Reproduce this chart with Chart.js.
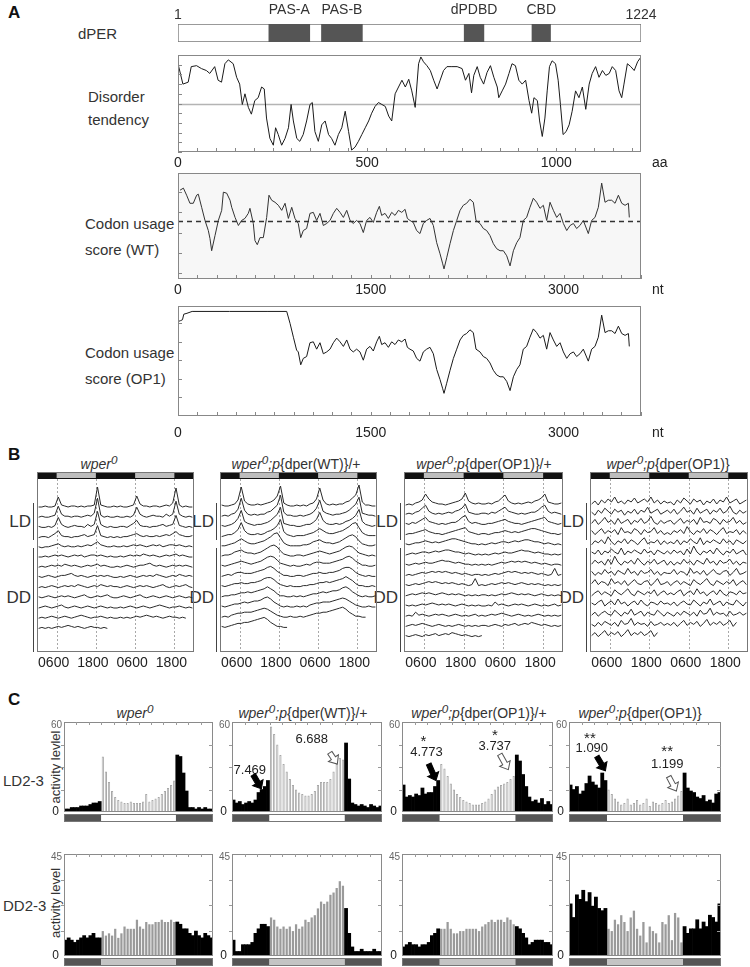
<!DOCTYPE html>
<html>
<head>
<meta charset="utf-8">
<title>dPER codon usage and activity</title>
<script src="https://cdn.jsdelivr.net/npm/chart.js@4.4.1/dist/chart.umd.min.js"></script>
<style>
  body { margin: 0; background: #fff; }
  #fig { position: relative; width: 750px; height: 967px; overflow: hidden;
         font-family: "Liberation Sans", Arial, sans-serif; color: #333; }
  #fig canvas { position: absolute; }
  .tx { position: absolute; white-space: nowrap; font-size: 15px; transform: translateY(-50%); }
  .pl { position: absolute; font-size: 17px; font-weight: bold; color: #111; transform: translateY(-50%); }
  .ttl { position: absolute; white-space: nowrap; font-size: 14px; transform: translate(-50%, -50%); }
  .lab { position: absolute; font-size: 17px; transform: translate(-100%, -50%); }
  .brk { position: absolute; border-left: 1.5px solid #444; }
  .rot { position: absolute; white-space: nowrap; font-size: 13px; transform: translate(-50%, -50%) rotate(-90deg); }
</style>
</head>
<body>
<div id="fig">
  <div class="pl" style="left:8px;top:13px">A</div>
  <div class="tx" style="left:78px;top:33px">dPER</div>
  <div class="tx" style="left:88px;top:96px">Disorder</div>
  <div class="tx" style="left:88px;top:119px">tendency</div>
  <div class="tx" style="left:85px;top:223px">Codon usage</div>
  <div class="tx" style="left:85px;top:249px">score (WT)</div>
  <div class="tx" style="left:85px;top:352px">Codon usage</div>
  <div class="tx" style="left:85px;top:378px">score (OP1)</div>

  <div class="pl" style="left:8px;top:455px">B</div>
  <div class="ttl" style="left:99px;top:462px"><i>wper<sup>0</sup></i></div>
  <div class="ttl" style="left:296px;top:462px"><i>wper<sup>0</sup>;p</i>{dper(WT)}/+</div>
  <div class="ttl" style="left:484px;top:462px"><i>wper<sup>0</sup>;p</i>{dper(OP1)}/+</div>
  <div class="ttl" style="left:668px;top:462px"><i>wper<sup>0</sup>;p</i>{dper(OP1)}</div>

  <div class="brk" style="left:33px;top:503px;height:37px"></div>
  <div class="brk" style="left:33px;top:548px;height:104px"></div>
  <div class="lab" style="left:31px;top:522px">LD</div>
  <div class="lab" style="left:31px;top:598px">DD</div>
  <div class="brk" style="left:216px;top:503px;height:37px"></div>
  <div class="brk" style="left:216px;top:548px;height:104px"></div>
  <div class="lab" style="left:214px;top:522px">LD</div>
  <div class="lab" style="left:214px;top:598px">DD</div>
  <div class="brk" style="left:400px;top:503px;height:37px"></div>
  <div class="brk" style="left:400px;top:548px;height:104px"></div>
  <div class="lab" style="left:398px;top:522px">LD</div>
  <div class="lab" style="left:398px;top:598px">DD</div>
  <div class="brk" style="left:586px;top:503px;height:37px"></div>
  <div class="brk" style="left:586px;top:548px;height:104px"></div>
  <div class="lab" style="left:584px;top:522px">LD</div>
  <div class="lab" style="left:584px;top:598px">DD</div>

  <div class="pl" style="left:8px;top:700px">C</div>
  <div class="ttl" style="left:135px;top:711px"><i>wper<sup>0</sup></i></div>
  <div class="ttl" style="left:303px;top:711px"><i>wper<sup>0</sup>;p</i>{dper(WT)}/+</div>
  <div class="ttl" style="left:479px;top:711px"><i>wper<sup>0</sup>;p</i>{dper(OP1)}/+</div>
  <div class="ttl" style="left:640px;top:711px"><i>wper<sup>0</sup>;p</i>{dper(OP1)}</div>
  <div class="tx" style="left:3px;top:780px;font-size:15px">LD2-3</div>
  <div class="tx" style="left:3px;top:905px;font-size:15px">DD2-3</div>
  <div class="rot" style="left:55px;top:767px">activity levlel</div>
  <div class="rot" style="left:55px;top:903px">activity level</div>
</div>

<script>
// ---------- panel A: protein, disorder, codon usage ----------
const proteinLength = 1224;
const domainNames = ['PAS-A', 'PAS-B', 'dPDBD', 'CBD'];
const domainStart = [241, 380, 757, 936];
const domainEnd = [349, 488, 809, 985];

const disorderPos = [0,13,27,35,49,62,75,84,97,106,115,124,133,146,155,163,170,177,186,194,
  203,212,221,228,234,243,252,258,265,274,283,292,299,305,314,322,331,340,349,355,
  362,371,380,389,398,406,415,424,433,442,451,459,468,477,486,495,504,512,521,530,
  539,548,557,565,574,583,592,601,610,618,627,636,642,649,658,667,676,685,693,702,
  711,724,738,751,760,769,776,782,791,799,808,817,826,835,844,848,857,866,875,883,
  892,901,910,919,928,935,941,950,956,963,970,976,982,989,998,1005,1011,1018,1026,1034,
  1042,1051,1060,1069,1078,1087,1095,1104,1113,1122,1131,1140,1148,1157,1166,1173,1179,1188,1197,1206,
  1215,1224];
const disorder = [91,70,72,88,89,86,84,81,88,74,72,91,95,91,77,70,49,60,46,39,
  53,56,67,65,35,14,7,25,18,7,14,25,49,32,14,11,18,32,49,51,
  21,11,28,32,18,14,7,18,25,42,21,2,5,11,18,25,32,40,47,51,
  49,47,37,32,60,67,74,67,75,63,46,91,98,93,89,84,74,65,74,84,
  88,88,88,86,74,81,61,79,88,77,70,82,89,77,67,56,63,70,81,91,
  89,74,70,74,53,40,56,53,32,16,35,63,88,94,91,74,49,18,21,28,
  42,63,56,67,44,70,81,88,77,84,79,81,88,84,63,56,70,91,88,84,
  93,98];
const disorderCut = 49;

const wtPos = [16,42,67,93,119,145,158,184,210,236,249,262,288,314,340,353,379,405,418,444,
  470,495,521,547,560,586,599,617,638,664,690,708,729,755,781,807,833,859,885,910,
  936,955,975,1001,1027,1053,1079,1105,1131,1157,1183,1209,1235,1261,1287,1313,1339,1364,1390,1416,
  1442,1468,1494,1520,1546,1567,1585,1611,1637,1663,1689,1715,1741,1767,1785,1805,1831,1857,1883,1909,
  1935,1961,1987,2013,2039,2060,2070,2091,2117,2143,2169,2195,2220,2246,2272,2298,2319,2350,2376,2402,
  2428,2454,2480,2506,2532,2558,2584,2610,2636,2661,2687,2713,2739,2765,2791,2817,2843,2869,2895,2921,
  2947,2973,2999,3025,3051,3077,3102,3128,3154,3193,3219,3245,3271,3297,3323,3349,3375,3401,3427,3453,
  3479,3505,3512];
const wtScore = [82,84,77,69,69,77,78,65,52,42,34,22,37,52,62,80,79,72,65,55,
  47,52,54,59,64,49,32,28,35,35,55,77,72,70,67,62,69,54,65,54,
  49,35,42,44,59,60,52,59,47,49,52,59,64,60,55,62,52,49,52,49,
  40,52,55,50,60,66,57,59,54,60,57,62,60,63,54,52,50,42,39,49,
  52,54,47,30,19,9,4,15,29,42,52,62,67,69,73,70,52,49,44,42,
  37,29,24,22,22,17,7,22,30,35,52,55,65,74,70,64,67,52,70,62,
  55,59,49,42,47,49,44,47,52,39,52,55,65,89,70,72,72,69,77,69,
  67,69,55];
const wtMean = 51;

// OP1 re-coded 5' region; downstream codons are the native ones
const op1HeadPos = [0,20,35,45,70,110,400,700,846,872,898,923];
const op1HeadScore = [82,83,84,90,91,93,93,93,93,80,65,51];

const aaTicks = [0, 500, 1000];
const ntTicks = [0, 1500, 3000];
const ntMax = 3603;

// ---------- panel B: actograms (hourly counts, one array per day) ----------
const actTickHours = [6, 18, 30, 42];
const actTickLabels = ['0600', '1800', '0600', '1800'];
const lightsOn = 6, lightsOff = 18;

const actWper0 = [
  [2,2,3,2,2,3,12,4,3,2,3,3,2,3,2,3,3,4,22,4,3,2,2,3],
  [2,3,2,2,3,4,13,5,3,3,2,3,3,2,3,4,3,6,21,4,2,3,2,2],
  [3,2,2,3,2,4,12,5,3,2,3,4,3,3,2,5,3,5,18,5,3,2,3,2],
  [2,3,3,2,4,6,9,4,3,3,2,3,3,4,5,3,4,5,14,4,3,2,3,2],
  [3,2,3,3,4,5,6,4,3,4,3,3,4,3,4,5,4,6,8,5,4,3,3,4],
  [3,3,4,3,4,5,4,5,4,3,4,5,4,5,3,4,5,5,4,5,4,3,4,3],
  [3,4,3,4,5,4,5,4,6,5,4,5,4,3,4,5,4,5,6,4,5,4,3,3],
  [4,3,4,5,4,3,4,5,5,6,7,5,4,5,4,3,4,5,4,5,4,5,4,3],
  [3,4,3,4,5,4,3,4,5,4,5,4,6,5,4,3,4,5,4,6,5,4,5,4],
  [4,3,4,5,4,3,4,5,4,5,4,3,4,5,6,4,3,4,5,4,5,6,4,3],
  [3,4,5,4,3,4,5,6,4,3,4,5,4,3,4,5,4,3,4,5,4,3,4,3],
  [3,4,3,4,5,4,3,4,5,4,3,4,5,6,5,4,3,4,4,5,4,3,4,3],
  [3,4,3,4,3,4,5,4,5,6,5,4,5,4,3,4,5,4,4,3,4,3]
];
const actWT = [
  [4,3,3,4,5,9,22,8,5,4,4,5,4,5,6,7,9,13,23,6,4,3,3,4],
  [3,4,3,5,6,10,21,9,5,4,5,4,5,5,7,8,11,14,24,7,4,4,3,3],
  [4,3,4,5,7,11,19,8,6,5,4,5,5,6,7,9,12,15,22,6,5,4,4,3],
  [3,4,5,5,7,10,17,9,6,5,5,6,5,6,8,9,11,14,20,8,5,4,3,4],
  [4,4,5,6,7,9,11,9,7,6,6,7,8,9,11,13,16,17,12,7,5,4,4,4],
  [4,5,5,6,8,9,10,8,7,7,6,7,8,10,12,14,15,13,9,6,5,4,4,5],
  [5,4,5,6,7,8,9,8,7,6,7,8,9,11,13,14,13,10,7,6,5,4,5,4],
  [4,5,6,5,7,8,8,7,7,7,8,9,10,11,13,14,12,9,7,5,5,4,4,5],
  [5,4,5,6,7,7,8,7,7,8,8,9,10,12,13,13,11,8,6,5,4,5,4,4],
  [4,5,5,6,6,7,8,8,9,8,9,10,11,12,14,12,10,7,5,5,4,4,5,4],
  [5,4,5,6,7,7,8,9,8,9,10,10,11,13,14,12,9,7,5,4,5,4,4,5],
  [4,5,4,6,7,8,8,9,9,9,10,11,12,13,12,10,8,6,5,4,4,5,4,4],
  [5,4,5,6,7,8,8,9,9,10,11,12,13,14,12,9,7,5,5,4,4]
];
const actOP1het = [
  [4,5,4,6,7,9,15,10,7,6,5,5,4,5,6,7,8,10,16,8,6,5,6,5],
  [5,6,5,7,8,11,14,8,6,5,6,5,6,7,6,8,9,11,15,7,6,5,5,6],
  [6,5,7,6,8,10,12,8,7,6,5,6,5,6,7,7,9,12,14,8,6,7,6,5],
  [5,6,6,7,8,9,10,8,7,6,6,5,6,7,8,9,10,11,12,8,7,6,5,6],
  [6,5,6,7,7,8,9,8,7,8,7,8,9,10,11,11,10,9,8,7,6,6,5,6],
  [5,6,7,6,7,8,8,7,8,9,8,9,10,10,9,8,8,7,6,7,6,5,6,5],
  [6,5,6,7,6,7,8,7,7,8,9,10,9,9,8,7,8,7,6,6,5,6,5,6],
  [5,6,5,6,7,8,7,8,9,8,9,8,9,8,7,8,7,6,7,6,5,6,6,5],
  [6,5,6,7,6,7,8,9,8,9,8,7,8,7,8,7,6,7,6,5,6,12,5,6],
  [5,6,7,6,7,8,7,8,7,6,7,8,7,6,7,6,7,6,5,6,5,6,5,6],
  [6,5,6,5,6,7,6,7,8,7,6,7,6,7,6,5,6,7,6,5,6,5,6,5],
  [5,6,5,9,6,7,6,5,6,7,6,7,6,5,6,7,6,5,6,5,6,7,5,6],
  [5,6,7,6,7,8,7,6,5,6,7,6,5,6,5,6,7,6,5,6,5,6,5,6],
  [6,5,6,7,6,5,7,6,7,8,6,7,8,7,9,8,7,6,7,6,5,6,5,6]
];
const actOP1 = [
  [5,8,4,9,6,10,7,12,6,8,5,9,7,11,6,8,10,7,12,6,9,5,8,6],
  [7,4,9,6,11,8,5,10,7,9,4,8,6,10,5,9,7,12,6,8,10,5,7,9],
  [6,10,5,8,12,7,9,5,11,6,8,10,5,9,7,11,6,8,13,7,5,9,6,8],
  [9,5,8,11,6,9,7,10,5,12,7,8,6,11,9,5,10,7,8,12,6,9,5,7],
  [5,9,7,10,6,13,8,5,9,7,11,6,10,8,5,9,12,6,8,7,10,5,9,6],
  [8,6,10,5,9,7,11,8,6,12,5,9,7,10,8,6,11,7,9,5,10,8,6,9],
  [6,10,7,9,5,11,6,14,8,5,9,7,10,6,12,8,5,9,7,11,6,8,10,5],
  [9,5,8,6,11,7,9,5,10,8,6,12,7,9,5,10,7,8,11,6,9,5,8,7],
  [7,11,6,9,8,5,12,7,9,6,10,5,8,11,7,6,9,10,5,8,12,6,7,9],
  [5,8,10,6,9,7,5,11,8,6,9,12,7,5,10,8,6,9,7,11,5,8,10,6],
  [8,6,9,11,5,8,10,6,12,7,9,5,8,10,6,11,7,5,9,8,6,10,7,8],
  [6,9,5,8,10,7,6,11,8,5,9,7,12,6,8,10,5,9,7,6,11,8,5,9],
  [7,5,9,6,10,8,6,9,5,11,7,8,13,6,9,7,8,5,10,6,7,9,6,8],
  [6,9,5,8,11,6,9,7,10,5,8,12,6,9,7,10,6,8,11,5,9]
];

// ---------- panel C: 30-min activity bins, days 2-3 ----------
const binLabels = Array.from({ length: 48 }, (_, i) => String(i));
const lightOnBin = 12, lightOffBin = 36;

const ldWper0 = [2,2,3,3,3,4,4,4,5,6,6,7, 37,27,20,14,10,8,7,6,6,7,6,6, 6,7,12,7,8,9,10,12,14,16,18,21, 38,37,26,14,3,3,2,3,2,3,2,2];
const ldWT = [8,6,7,5,6,7,6,8,13,15,17,21, 57,52,45,38,32,27,22,18,15,13,12,11, 11,12,14,18,20,20,20,22,27,32,36,35, 46,22,6,5,4,5,4,3,5,4,3,4];
const ldOP1het = [18,10,11,10,12,11,16,12,13,13,17,21, 32,29,24,19,15,12,10,8,7,6,5,5, 5,6,7,9,12,15,17,18,19,20,22,24, 38,34,25,17,10,7,8,6,9,5,7,5];
const ldOP1 = [18,15,17,12,14,19,24,20,18,16,26,21, 15,12,9,7,5,6,9,5,6,8,5,6, 9,4,7,6,5,6,8,6,7,9,11,14, 26,16,14,13,10,9,11,7,8,6,12,13];
const ddWper0 = [7,8,7,6,7,8,9,8,9,10,8,8, 11,9,10,9,12,8,10,13,12,12,12,16, 13,12,15,14,14,15,15,16,15,15,16,15, 15,14,12,12,10,9,11,9,8,10,9,8];
const ddWT = [7,2,2,5,5,5,6,10,12,14,14,13, 17,16,13,12,13,12,13,11,14,12,13,16, 15,17,18,21,24,23,24,27,28,30,33,31, 21,10,4,2,2,3,2,2,2,3,2,2];
const ddOP1het = [4,5,6,5,5,4,5,5,6,9,10,12, 12,12,15,12,10,10,11,11,12,12,12,12, 11,13,14,15,16,15,16,16,15,17,16,14, 13,12,10,8,5,6,7,7,7,6,6,5];
const ddOP1 = [23,17,27,25,29,24,28,22,26,21,20,21, 12,11,16,14,18,15,11,17,20,12,9,15, 6,13,11,10,6,15,14,18,7,19,17,6, 13,10,12,12,16,12,15,13,18,17,15,23];

// evening / morning anticipation indices printed on the LD plots
const notesWT = {
  texts: [{ bin: 5.2, val: 28, text: '7.469' }, { bin: 25, val: 48.6, text: '6.688' }],
  arrows: [{ from: [6.3, 24.8], to: [8.9, 15.5], solid: true }, { from: [30.8, 39.5], to: [33.2, 32], solid: false }]
};
const notesOP1het = {
  texts: [{ bin: 6.3, val: 48.6, text: '*', star: true }, { bin: 7.3, val: 39.5, text: '4.773' },
          { bin: 29, val: 53, text: '*', star: true }, { bin: 29, val: 44, text: '3.737' }],
  arrows: [{ from: [8.0, 32], to: [10.3, 21], solid: true }, { from: [30.6, 38.4], to: [33.3, 28.2], solid: false }]
};
const notesOP1 = {
  texts: [{ bin: 6.1, val: 51, text: '**', star: true }, { bin: 6.7, val: 42.3, text: '1.090' },
          { bin: 30.5, val: 41.8, text: '**', star: true }, { bin: 30.5, val: 31.6, text: '1.199' }],
  arrows: [{ from: [8.3, 37], to: [11, 27.5], solid: true }, { from: [31, 23.6], to: [33.4, 14], solid: false }]
};

// ---------- helpers ----------
const FONT = '"Liberation Sans", Arial, sans-serif';

function place(area, m) {
  const cv = document.createElement('canvas');
  cv.width = area[2] - area[0] + m[0] + m[2];
  cv.height = area[3] - area[1] + m[1] + m[3];
  cv.style.left = (area[0] - m[0]) + 'px';
  cv.style.top = (area[1] - m[1]) + 'px';
  document.getElementById('fig').appendChild(cv);
  return { cv, padding: { left: m[0], top: m[1], right: m[2], bottom: m[3] } };
}

function baseOptions(padding, x, y) {
  return {
    responsive: false, animation: false, events: [],
    layout: { padding },
    plugins: { legend: { display: false }, tooltip: { enabled: false } },
    scales: { x: Object.assign({ display: false }, x), y: Object.assign({ display: false }, y) }
  };
}

function strokeBox(ctx, a, color) {
  ctx.save();
  ctx.strokeStyle = color;
  ctx.lineWidth = 1;
  ctx.strokeRect(Math.round(a.left) + 0.5, Math.round(a.top) + 0.5,
                 Math.round(a.right - a.left) - 1, Math.round(a.bottom - a.top) - 1);
  ctx.restore();
}

function frame(color, fill) {
  return {
    id: 'frame',
    beforeDatasetsDraw(c) {
      if (!fill) return;
      const a = c.chartArea;
      c.ctx.save();
      c.ctx.fillStyle = fill;
      c.ctx.fillRect(a.left, a.top, a.right - a.left, a.bottom - a.top);
      c.ctx.restore();
    },
    afterDatasetsDraw(c) { strokeBox(c.ctx, c.chartArea, color); }
  };
}

// inward ticks on bottom/left and numbers under the sequence axes
function seqAxis(step, labels, unit, yStep, labelGap) {
  return {
    id: 'seqAxis',
    afterDraw(c) {
      const { ctx, chartArea: a, scales: { x, y } } = c;
      const ly = a.bottom + (labelGap || 11);
      ctx.save();
      ctx.strokeStyle = '#888';
      ctx.lineWidth = 1;
      ctx.beginPath();
      for (let v = 0; v <= x.max; v += step) {
        const px = Math.round(x.getPixelForValue(v)) + 0.5;
        ctx.moveTo(px, a.bottom); ctx.lineTo(px, a.bottom - 4);
      }
      for (let v = Math.ceil(y.min / yStep) * yStep; v <= y.max; v += yStep) {
        const py = Math.round(y.getPixelForValue(v)) + 0.5;
        ctx.moveTo(a.left, py); ctx.lineTo(a.left + 4, py);
      }
      ctx.stroke();
      ctx.fillStyle = '#222';
      ctx.font = '14px ' + FONT;
      ctx.textBaseline = 'middle';
      ctx.textAlign = 'center';
      labels.forEach(v => ctx.fillText(String(v), x.getPixelForValue(v), ly));
      ctx.textAlign = 'left';
      ctx.fillText(unit, a.right + 11, ly);
      ctx.restore();
    }
  };
}

function trace(pos, vals, color) {
  return { data: pos.map((p, i) => ({ x: p, y: vals[i] })), borderColor: color || '#1a1a1a',
           borderWidth: 1, pointRadius: 0, tension: 0 };
}

// ---------- panel A ----------
const dom = place([178, 24, 641, 42], [40, 24, 40, 4]);
const domOpts = baseOptions(dom.padding, { type: 'linear', min: 1, max: proteinLength }, {});
domOpts.indexAxis = 'y';
new Chart(dom.cv, {
  type: 'bar',
  data: {
    labels: ['dPER'],
    datasets: domainNames.map((n, i) => ({
      label: n, data: [[domainStart[i], domainEnd[i]]], backgroundColor: '#555',
      grouped: false, barPercentage: 1, categoryPercentage: 1, order: 1
    })).concat([{
      label: 'dPER', data: [[1, proteinLength]], backgroundColor: '#fff', borderColor: '#777',
      borderWidth: 1, borderSkipped: false, grouped: false, barPercentage: 1, categoryPercentage: 1, order: 2
    }])
  },
  options: domOpts,
  plugins: [{
    id: 'domainLabels',
    afterDraw(c) {
      const { ctx, scales: { x } } = c;
      ctx.save();
      ctx.fillStyle = '#333';
      ctx.font = '14px ' + FONT;
      ctx.textAlign = 'center';
      ctx.textBaseline = 'middle';
      domainNames.forEach((n, i) => ctx.fillText(n, x.getPixelForValue((domainStart[i] + domainEnd[i]) / 2), 10));
      ctx.fillText('1', x.getPixelForValue(1), 15);
      ctx.fillText(String(proteinLength), x.getPixelForValue(proteinLength), 15);
      ctx.restore();
    }
  }]
});

const dis = place([178, 55, 641, 152], [10, 4, 40, 18]);
new Chart(dis.cv, {
  type: 'line',
  data: { datasets: [
    trace(disorderPos, disorder),
    { data: [{ x: 0, y: disorderCut }, { x: proteinLength, y: disorderCut }], borderColor: '#b4b4b4', borderWidth: 1.5, pointRadius: 0 }
  ] },
  options: baseOptions(dis.padding, { type: 'linear', min: 0, max: proteinLength }, { min: 0, max: 100 }),
  plugins: [frame('#888'), seqAxis(50, aaTicks, 'aa', 10)]
});

const wt = place([178, 173, 641, 279], [10, 4, 40, 18]);
new Chart(wt.cv, {
  type: 'line',
  data: { datasets: [
    trace(wtPos, wtScore, '#333'),
    { data: [{ x: 0, y: wtMean }, { x: ntMax, y: wtMean }], borderColor: '#333', borderWidth: 1.5, borderDash: [5, 4], pointRadius: 0 }
  ] },
  options: baseOptions(wt.padding, { type: 'linear', min: 0, max: ntMax }, { min: -6, max: 99 }),
  plugins: [frame('#888', '#f7f7f7'), seqAxis(150, ntTicks, 'nt', 20)]
});

const op1Pos = op1HeadPos.concat(wtPos.filter(p => p > op1HeadPos[op1HeadPos.length - 1]));
const op1Score = op1HeadScore.concat(wtScore.filter((s, i) => wtPos[i] > op1HeadPos[op1HeadPos.length - 1]));
const op = place([178, 306, 641, 416], [10, 4, 40, 26]);
new Chart(op.cv, {
  type: 'line',
  data: { datasets: [trace(op1Pos, op1Score)] },
  options: baseOptions(op.padding, { type: 'linear', min: 0, max: ntMax }, { min: -20.6, max: 98.9 }),
  plugins: [frame('#888'), seqAxis(150, ntTicks, 'nt', 20, 17)]
});

// ---------- panel B ----------
const rowZero = 143, rowStep = 10.2;

function actoDeco() {
  return {
    id: 'acto',
    beforeDatasetsDraw(c) {
      const { ctx, chartArea: a, scales: { x } } = c;
      ctx.save();
      ctx.strokeStyle = '#a8a8a8';
      ctx.setLineDash([2, 2]);
      ctx.lineWidth = 1;
      actTickHours.forEach(h => {
        const px = Math.round(x.getPixelForValue(h)) + 0.5;
        ctx.beginPath(); ctx.moveTo(px, a.top + 7); ctx.lineTo(px, a.bottom); ctx.stroke();
      });
      ctx.restore();
    },
    afterDatasetsDraw(c) {
      const { ctx, chartArea: a, scales: { x } } = c;
      ctx.save();
      ctx.fillStyle = '#111';
      ctx.fillRect(a.left, a.top, a.right - a.left, 7);
      ctx.fillStyle = '#bdbdbd';
      [0, 24].forEach(d => {
        const x1 = x.getPixelForValue(d + lightsOn), x2 = x.getPixelForValue(d + lightsOff);
        ctx.fillRect(x1, a.top + 1, x2 - x1, 5);
      });
      ctx.fillStyle = '#222';
      ctx.font = '14px ' + FONT;
      ctx.textAlign = 'center';
      ctx.textBaseline = 'middle';
      actTickHours.forEach((h, i) => ctx.fillText(actTickLabels[i], x.getPixelForValue(h) - 3, a.bottom + 11));
      ctx.restore();
      strokeBox(ctx, a, '#777');
    }
  };
}

function actogram(area, days) {
  const p = place(area, [4, 2, 2, 20]);
  const datasets = days.map((day, r) => {
    const base = rowZero - r * rowStep;
    const pts = day.map((v, h) => ({ x: h + 0.5, y: base + v }));
    if (days[r + 1]) days[r + 1].forEach((v, h) => pts.push({ x: 24 + h + 0.5, y: base + v }));
    return { data: pts, borderColor: '#2a2a2a', borderWidth: 1, pointRadius: 0, tension: 0 };
  });
  new Chart(p.cv, {
    type: 'line',
    data: { datasets },
    options: baseOptions(p.padding, { type: 'linear', min: 0, max: 48 }, { min: 0, max: 180 }),
    plugins: [actoDeco()]
  });
}

actogram([37, 472, 194, 652], actWper0);
actogram([220, 472, 377, 652], actWT);
actogram([404, 472, 563, 652], actOP1het);
actogram([590, 472, 748, 652], actOP1);

// ---------- panel C ----------
function blockArrow(ctx, x1, y1, x2, y2, solid) {
  const ang = Math.atan2(y2 - y1, x2 - x1), len = Math.hypot(x2 - x1, y2 - y1);
  ctx.save();
  ctx.translate(x1, y1);
  ctx.rotate(ang);
  ctx.beginPath();
  ctx.moveTo(0, -2.5); ctx.lineTo(len - 7, -2.5); ctx.lineTo(len - 7, -6); ctx.lineTo(len, 0);
  ctx.lineTo(len - 7, 6); ctx.lineTo(len - 7, 2.5); ctx.lineTo(0, 2.5); ctx.closePath();
  ctx.fillStyle = solid ? '#000' : '#fff';
  ctx.fill();
  ctx.strokeStyle = solid ? '#000' : '#555';
  ctx.lineWidth = 1;
  ctx.stroke();
  ctx.restore();
}

function activityDeco(yMax, dd, notes) {
  return {
    id: 'activity',
    afterDatasetsDraw(c) {
      const { ctx, chartArea: a, scales: { x, y } } = c;
      strokeBox(ctx, a, '#8a8a8a');
      ctx.save();
      ctx.strokeStyle = '#9a9a9a';
      ctx.lineWidth = 1;
      ctx.beginPath();
      for (let v = yMax / 4; v < yMax; v += yMax / 4) {
        const py = Math.round(y.getPixelForValue(v)) + 0.5;
        ctx.moveTo(a.right, py); ctx.lineTo(a.right - 4, py);
        ctx.moveTo(a.left, py); ctx.lineTo(a.left - 3, py);
      }
      for (let b = 4; b < 48; b += 4) {
        const px = Math.round(x.getPixelForValue(b - 0.5)) + 0.5;
        ctx.moveTo(px, a.top); ctx.lineTo(px, a.top + 3);
      }
      ctx.stroke();

      // light regime bar under the axis
      const w = (a.right - a.left) / 48;
      const edge = b => x.getPixelForValue(b) - w / 2;
      const top = a.bottom + 2, h = 8;
      ctx.fillStyle = '#555';
      ctx.fillRect(a.left, top, edge(lightOnBin) - a.left, h);
      ctx.fillRect(edge(lightOffBin), top, a.right - edge(lightOffBin), h);
      ctx.fillStyle = dd ? '#c4c4c4' : '#fff';
      ctx.fillRect(edge(lightOnBin), top, edge(lightOffBin) - edge(lightOnBin), h);
      ctx.strokeStyle = '#777';
      ctx.strokeRect(Math.round(a.left) + 0.5, top + 0.5, Math.round(a.right - a.left) - 1, h - 1);

      ctx.textBaseline = 'middle';
      ctx.textAlign = 'right';
      ctx.fillStyle = '#666';
      ctx.font = '10px ' + FONT;
      ctx.fillText(String(yMax), a.left - 2, a.top + 3);
      ctx.fillStyle = '#222';
      ctx.font = '12px ' + FONT;
      ctx.fillText('0', a.left - 5, a.bottom);

      if (notes) {
        ctx.textAlign = 'center';
        notes.texts.forEach(t => {
          ctx.font = (t.star ? '15px ' : '13px ') + FONT;
          ctx.fillText(t.text, x.getPixelForValue(t.bin), y.getPixelForValue(t.val) + (t.star ? 3 : 0));
        });
        notes.arrows.forEach(ar => blockArrow(ctx,
          x.getPixelForValue(ar.from[0]), y.getPixelForValue(ar.from[1]),
          x.getPixelForValue(ar.to[0]), y.getPixelForValue(ar.to[1]), ar.solid));
      }
      ctx.restore();
    }
  };
}

function activity(area, values, yMax, dd, notes) {
  const p = place(area, [22, 6, 6, 12]);
  const night = values.map((v, i) => (i < lightOnBin || i >= lightOffBin) ? v : null);
  const day = values.map((v, i) => (i >= lightOnBin && i < lightOffBin) ? v : null);
  new Chart(p.cv, {
    type: 'bar',
    data: {
      labels: binLabels,
      datasets: [
        { data: night, backgroundColor: '#000', barPercentage: 1, categoryPercentage: 1 },
        { data: day, backgroundColor: dd ? '#9a9a9a' : '#fff', borderColor: '#a8a8a8',
          borderWidth: dd ? 0 : 1, barPercentage: 0.72, categoryPercentage: 1 }
      ]
    },
    options: baseOptions(p.padding, { stacked: true }, { stacked: true, min: 0, max: yMax }),
    plugins: [activityDeco(yMax, dd, notes)]
  });
}

activity([64, 722, 213, 812], ldWper0, 60, false, null);
activity([232, 722, 382, 812], ldWT, 60, false, notesWT);
activity([402, 722, 553, 812], ldOP1het, 60, false, notesOP1het);
activity([569, 722, 721, 812], ldOP1, 60, false, notesOP1);

activity([64, 854, 213, 956], ddWper0, 45, true, null);
activity([232, 854, 382, 956], ddWT, 45, true, null);
activity([402, 854, 553, 956], ddOP1het, 45, true, null);
activity([569, 854, 721, 956], ddOP1, 45, true, null);
</script>
</body>
</html>
